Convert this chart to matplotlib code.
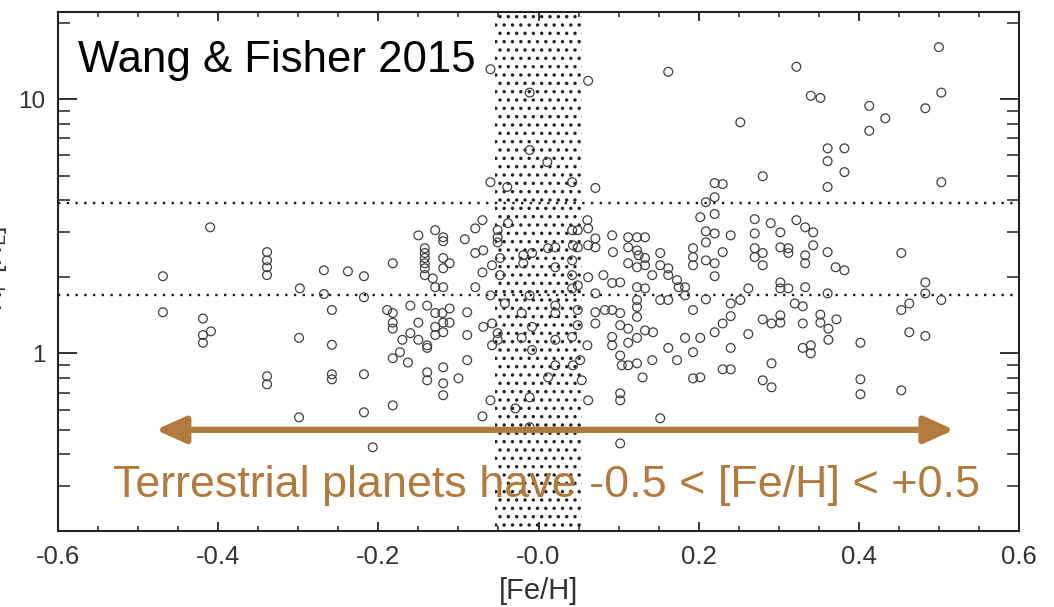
import matplotlib
matplotlib.use('Agg')
import matplotlib.pyplot as plt
import numpy as np
from matplotlib.ticker import FixedLocator, FixedFormatter, MultipleLocator, LogLocator, NullFormatter

plt.rcParams['font.family'] = ['Liberation Sans', 'DejaVu Sans']
plt.rcParams['hatch.linewidth'] = 1.25

# ---- data: ([Fe/H], planet radius in Earth radii) ----
metal_poor_upper = [(-0.410, 3.13), (-0.469, 2.01), (-0.339, 2.50), (-0.339, 2.32), (-0.339, 2.18),
                    (-0.339, 2.03), (-0.268, 2.12), (-0.238, 2.10), (-0.218, 2.01), (-0.298, 1.80),
                    (-0.268, 1.71), (-0.218, 1.66)]
metal_poor_lower = [(-0.469, 1.45), (-0.419, 1.37), (-0.419, 1.18), (-0.409, 1.22), (-0.419, 1.10),
                    (-0.299, 1.15), (-0.258, 1.48), (-0.258, 1.08), (-0.339, 0.812), (-0.339, 0.755),
                    (-0.258, 0.827), (-0.258, 0.790), (-0.218, 0.827), (-0.218, 0.586), (-0.299, 0.560),
                    (-0.207, 0.427)]
middle_upper = [(-0.060, 4.71), (-0.039, 4.51), (0.042, 4.71), (0.071, 4.47), (0.011, 5.65), (0.202, 3.43),
                (-0.070, 3.34), (-0.079, 3.10), (-0.129, 3.05), (-0.150, 2.91), (-0.119, 2.86), (-0.119, 2.76),
                (-0.092, 2.81), (-0.051, 3.05), (-0.051, 2.86), (-0.051, 2.73), (-0.038, 3.25), (0.042, 3.05),
                (0.049, 3.05), (0.061, 3.34), (0.062, 3.10), (0.071, 2.83), (0.071, 2.61), (0.062, 2.66),
                (0.043, 2.66), (0.049, 2.61), (0.021, 2.61), (0.012, 2.59), (0.092, 2.91), (0.112, 2.86),
                (0.123, 2.86), (0.133, 2.86), (0.112, 2.61), (0.123, 2.54), (0.125, 2.43), (0.093, 2.50),
                (0.152, 2.48), (0.193, 2.59), (0.193, 2.39), (0.193, 2.22), (-0.142, 2.59), (-0.142, 2.48),
                (-0.142, 2.37), (-0.142, 2.26), (-0.142, 2.16), (-0.142, 2.03), (-0.119, 2.37), (-0.119, 2.16),
                (-0.111, 2.26), (-0.182, 2.26), (-0.132, 1.97), (-0.129, 1.82), (-0.119, 1.82), (-0.079, 1.82),
                (-0.070, 2.08), (-0.058, 2.22), (-0.079, 2.48), (-0.069, 2.54), (-0.048, 2.37), (-0.048, 2.03),
                (-0.019, 2.43), (-0.008, 2.48), (-0.019, 2.26), (0.021, 2.18), (0.042, 2.32), (0.042, 2.03),
                (0.049, 1.85), (0.042, 1.80), (0.062, 1.99), (0.081, 2.03), (0.092, 1.89), (0.102, 1.90),
                (0.112, 2.26), (0.123, 2.18), (0.133, 2.22), (0.133, 2.37), (0.152, 2.22), (0.162, 2.16),
                (0.142, 2.03), (0.162, 2.03), (0.173, 1.94), (0.183, 1.82), (0.175, 1.82), (0.123, 1.82),
                (0.133, 1.80), (-0.060, 1.69), (-0.011, 1.69), (0.071, 1.72)]
middle_lower = [(-0.189, 1.48), (-0.182, 1.44), (-0.182, 1.32), (-0.182, 1.25), (-0.160, 1.54), (-0.139, 1.54),
                (-0.129, 1.44), (-0.120, 1.44), (-0.111, 1.50), (-0.119, 1.32), (-0.111, 1.32), (-0.129, 1.27),
                (-0.119, 1.21), (-0.129, 1.18), (-0.150, 1.32), (-0.089, 1.45), (-0.160, 1.20), (-0.170, 1.13),
                (-0.150, 1.13), (-0.139, 1.075), (-0.139, 1.05), (-0.089, 1.18), (-0.173, 1.01), (-0.182, 0.956),
                (-0.163, 0.92), (-0.119, 0.881), (-0.139, 0.842), (-0.139, 0.783), (-0.119, 0.762), (-0.100, 0.797),
                (-0.089, 0.94), (-0.119, 0.684), (-0.182, 0.624), (-0.069, 1.27), (-0.058, 1.31), (-0.058, 1.075),
                (-0.060, 0.653), (-0.070, 0.565), (-0.051, 1.20), (-0.051, 1.13), (-0.042, 1.57), (-0.021, 1.44),
                (-0.021, 1.15), (-0.008, 1.27), (-0.008, 1.03), (0.021, 1.44), (0.021, 1.54), (0.021, 1.13),
                (0.042, 1.16), (0.021, 0.897), (0.043, 0.897), (0.052, 0.94), (0.049, 1.48), (0.049, 1.29),
                (0.061, 1.075), (0.062, 0.653), (0.054, 0.783), (0.012, 0.804), (-0.011, 0.671), (-0.029, 0.607),
                (-0.011, 0.512), (0.071, 1.45), (0.071, 1.31), (0.083, 1.48), (0.092, 1.48), (0.102, 1.44),
                (0.102, 1.29), (0.112, 1.25), (0.123, 1.39), (0.123, 1.52), (0.123, 1.62), (0.133, 1.23),
                (0.143, 1.21), (0.092, 1.16), (0.092, 1.075), (0.112, 1.10), (0.123, 1.15), (0.102, 0.98),
                (0.104, 0.897), (0.112, 0.897), (0.123, 0.913), (0.142, 0.94), (0.130, 0.804), (0.102, 0.696),
                (0.102, 0.653), (0.152, 0.555), (0.102, 0.442), (0.162, 1.05), (0.173, 0.94), (0.183, 1.15),
                (0.193, 1.01), (0.193, 0.797), (0.202, 0.804), (0.202, 1.15), (0.152, 1.62), (0.162, 1.62),
                (0.183, 1.69), (0.193, 1.48)]
middle_top = [(-0.060, 13.1), (0.062, 11.8), (0.162, 12.8), (-0.011, 10.6), (-0.011, 6.3)]
metal_rich_upper = [(0.500, 16.0), (0.322, 13.4), (0.340, 10.3), (0.352, 10.1), (0.252, 8.1), (0.413, 9.4),
                    (0.433, 8.4), (0.413, 7.5), (0.483, 9.2), (0.503, 10.6), (0.361, 6.4), (0.382, 6.4),
                    (0.361, 5.7), (0.382, 5.16), (0.361, 4.51), (0.503, 4.71), (0.280, 4.97), (0.220, 4.67),
                    (0.230, 4.63), (0.220, 4.11), (0.209, 3.93), (0.220, 3.53), (0.209, 3.02), (0.220, 2.96),
                    (0.240, 2.91), (0.209, 2.73), (0.230, 2.50), (0.209, 2.32), (0.220, 2.26), (0.220, 2.01),
                    (0.270, 3.37), (0.290, 3.25), (0.302, 2.99), (0.270, 2.96), (0.270, 2.59), (0.270, 2.39),
                    (0.280, 2.48), (0.302, 2.61), (0.312, 2.59), (0.312, 2.48), (0.322, 3.34), (0.333, 3.13),
                    (0.343, 2.99), (0.343, 2.66), (0.333, 2.43), (0.333, 2.26), (0.280, 2.22), (0.361, 2.50),
                    (0.371, 2.18), (0.382, 2.12), (0.453, 2.48), (0.483, 1.90), (0.483, 1.72), (0.302, 1.90),
                    (0.302, 1.80), (0.312, 1.80), (0.333, 1.82), (0.262, 1.80), (0.361, 1.72)]
metal_rich_lower = [(0.209, 1.63), (0.240, 1.57), (0.252, 1.62), (0.320, 1.57), (0.330, 1.53), (0.352, 1.42),
                    (0.372, 1.36), (0.352, 1.32), (0.362, 1.25), (0.362, 1.13), (0.330, 1.31), (0.302, 1.41),
                    (0.302, 1.32), (0.291, 1.31), (0.280, 1.36), (0.240, 1.40), (0.230, 1.31), (0.220, 1.21),
                    (0.262, 1.19), (0.240, 1.05), (0.330, 1.05), (0.340, 1.075), (0.340, 1.00), (0.291, 0.913),
                    (0.230, 0.865), (0.240, 0.865), (0.280, 0.783), (0.291, 0.735), (0.402, 1.10), (0.402, 0.79),
                    (0.402, 0.69), (0.453, 0.715), (0.463, 1.21), (0.483, 1.17), (0.453, 1.48), (0.463, 1.57),
                    (0.503, 1.62)]

solar_band = (-0.054, 0.054)
radius_limits = [1.7, 3.9]
xtick_values = [-0.6, -0.4, -0.2, 0.0, 0.2, 0.4, 0.6]
xtick_labels = ['-0.6', '-0.4', '-0.2', '-0.0', '0.2', '0.4', '0.6']
ytick_values = [1, 10]
ytick_labels = ['1', '10']
terrestrial_range = (-0.478, 0.519)
arrow_radius = 0.5

groups = [metal_poor_upper, metal_poor_lower, middle_upper, middle_lower,
          middle_top, metal_rich_upper, metal_rich_lower]
pts = np.array([p for g in groups for p in g])
feh, radius = pts[:, 0], pts[:, 1]

W, H = 1054, 607
brown = '#B27A3C'
fig = plt.figure(figsize=(W / 100, H / 100), dpi=100)
ax = fig.add_axes([58 / W, 1 - 531 / H, 961 / W, 519 / H])
ax.set_yscale('log')
ax.set_xlim(-0.6, 0.6)
ax.set_ylim(0.2, 22)

ax.axvspan(*solar_band, facecolor='none', edgecolor='#222222', hatch='..', linewidth=0, zorder=1)
for r in radius_limits:
    ax.axhline(r, color='#1a1a1a', lw=1.7, ls=(0, (1, 2.7)), zorder=1.5)

ax.scatter(feh, radius, s=40, facecolors='none', edgecolors='#404040', linewidths=0.9, zorder=3)

# ticks
ax.xaxis.set_major_locator(FixedLocator(xtick_values))
ax.xaxis.set_major_formatter(FixedFormatter(xtick_labels))
ax.xaxis.set_minor_locator(MultipleLocator(0.05))
ax.yaxis.set_major_locator(FixedLocator(ytick_values))
ax.yaxis.set_major_formatter(FixedFormatter(ytick_labels))
ax.yaxis.set_minor_locator(LogLocator(base=10, subs=np.arange(2, 10)))
ax.yaxis.set_minor_formatter(NullFormatter())

ax.tick_params(axis='both', which='both', direction='in', top=True, right=True,
               colors='#222222', labelcolor='#333333')
ax.tick_params(axis='x', which='major', length=6.5, width=1.3, labelsize=18.5, pad=10)
ax.tick_params(axis='x', which='minor', length=3.5, width=1.1)
ax.tick_params(axis='y', which='major', length=14, width=1.3, labelsize=17.5, pad=9)
ax.tick_params(axis='y', which='minor', length=8.5, width=1.1)
for s in ax.spines.values():
    s.set_linewidth(1.5)
    s.set_color('#222222')

ax.set_xlabel('[Fe/H]', fontsize=21, color='#333333', labelpad=6)
fig.text(9 / W, 1 - 268 / H, 'R$_{\\rm P}$ [R$_{\\rm E}$]', rotation=90, ha='right', va='center',
         fontsize=19, color='#333333')

ax.text(0.021, 0.884, 'Wang & Fisher 2015', transform=ax.transAxes, fontsize=31.5,
        ha='left', va='baseline', color='black', zorder=6)

ax.annotate('', xy=(terrestrial_range[1], arrow_radius), xytext=(terrestrial_range[0], arrow_radius),
            arrowprops=dict(arrowstyle='<|-|>,head_length=1.0,head_width=0.45', mutation_scale=18,
                            lw=4.5, color=brown, shrinkA=0, shrinkB=0), zorder=5)
ax.text(0.057, 0.0655, 'Terrestrial planets have -0.5 < [Fe/H] < +0.5', transform=ax.transAxes,
        fontsize=32.3, ha='left', va='baseline', color=brown, zorder=6)

fig.savefig('out.png', dpi=100)
